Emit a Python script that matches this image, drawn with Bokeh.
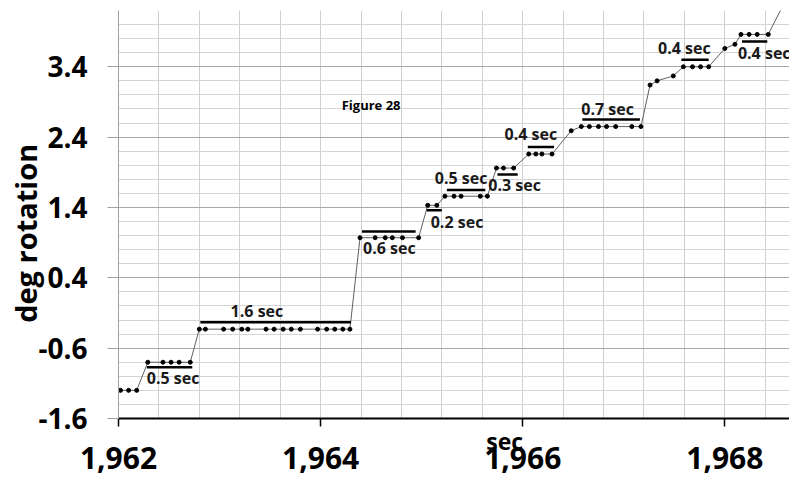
import numpy as np
from bokeh.plotting import figure
from bokeh.models import FixedTicker, NumeralTickFormatter, PrintfTickFormatter, Label, Range1d, ColumnDataSource
from bokeh.core.properties import value
from bokeh.embed import file_html
from bokeh.resources import INLINE

# ---- data ----
t = [1962.02, 1962.10, 1962.18,
     1962.29, 1962.44, 1962.52, 1962.60, 1962.71,
     1962.80, 1962.86, 1963.04, 1963.13, 1963.22, 1963.28, 1963.46, 1963.54,
     1963.63, 1963.71, 1963.80, 1963.97, 1964.06, 1964.14, 1964.22, 1964.29,
     1964.39, 1964.54, 1964.64, 1964.71, 1964.81, 1964.97,
     1965.06, 1965.15,
     1965.23, 1965.32, 1965.39, 1965.58, 1965.65,
     1965.74, 1965.81, 1965.91,
     1966.06, 1966.13, 1966.19, 1966.29,
     1966.48,
     1966.58, 1966.66, 1966.75, 1966.83, 1966.92, 1967.08, 1967.17,
     1967.26, 1967.33, 1967.49,
     1967.59, 1967.68, 1967.76, 1967.84,
     1968.00, 1968.10,
     1968.16, 1968.24, 1968.32, 1968.43,
     1968.62]
deg = [-1.20, -1.20, -1.20,
       -0.80, -0.80, -0.80, -0.80, -0.80,
       -0.33, -0.33, -0.33, -0.33, -0.33, -0.33, -0.33, -0.33,
       -0.33, -0.33, -0.33, -0.33, -0.33, -0.33, -0.33, -0.33,
       0.97, 0.97, 0.97, 0.97, 0.97, 0.97,
       1.43, 1.43,
       1.56, 1.56, 1.56, 1.56, 1.56,
       1.96, 1.96, 1.96,
       2.16, 2.16, 2.16, 2.16,
       2.49,
       2.55, 2.55, 2.55, 2.55, 2.55, 2.55, 2.55,
       3.14, 3.20, 3.27,
       3.40, 3.40, 3.40, 3.40,
       3.66, 3.72,
       3.86, 3.86, 3.86, 3.86,
       4.40]

bar_x0 = [1962.28, 1962.81, 1964.41, 1965.05, 1965.25, 1965.75, 1966.05, 1966.59, 1967.57, 1968.17]
bar_x1 = [1962.73, 1964.30, 1964.94, 1965.20, 1965.63, 1965.95, 1966.31, 1967.16, 1967.84, 1968.42]
bar_y = [-0.87, -0.23, 1.06, 1.36, 1.65, 1.87, 2.26, 2.65, 3.50, 3.76]

ann_text = ["0.5 sec", "1.6 sec", "0.6 sec", "0.2 sec", "0.5 sec", "0.3 sec",
            "0.4 sec", "0.7 sec", "0.4 sec", "0.4 sec"]
ann_x = [1962.54, 1963.37, 1964.68, 1965.35, 1965.39, 1965.92, 1966.08, 1966.84, 1967.60, 1968.39]
ann_y = [-1.02, -0.07, 0.83, 1.20, 1.82, 1.72, 2.45, 2.80, 3.66, 3.60]

x_ticks = [1962, 1964, 1966, 1968]
y_ticks = [-1.6, -0.6, 0.4, 1.4, 2.4, 3.4]

FONT = "Open Sans"
NB = "\u00a0"

p = figure(width=789, height=479, output_backend="svg", toolbar_location=None,
           x_range=Range1d(1962, 1968.64), y_range=Range1d(-1.6, 4.2),
           min_border_left=118, min_border_right=0, min_border_top=10, min_border_bottom=61)
p.outline_line_color = None
p.background_fill_color = "white"

# grids
p.xgrid.ticker = FixedTicker(ticks=list(np.round(np.arange(1962.0, 1968.65, 0.4), 2)))
p.xgrid.grid_line_color = "#cfcfcf"
p.xgrid.grid_line_width = 1
p.ygrid.ticker = FixedTicker(ticks=y_ticks,
                             minor_ticks=list(np.round(np.arange(-1.6, 4.21, 0.2), 2)))
p.ygrid.grid_line_color = "#a8a8a8"
p.ygrid.minor_grid_line_color = "#d4d4d4"

# x axis
xa = p.xaxis[0]
xa.ticker = FixedTicker(ticks=x_ticks)
xa.formatter = NumeralTickFormatter(format="0,0")
xa.axis_line_color = "black"
xa.axis_line_width = 2
xa.major_tick_line_color = "black"
xa.major_tick_line_width = 1.5
xa.major_tick_out = 8
xa.major_tick_in = 0
xa.minor_tick_line_color = None
xa.major_label_standoff = 20
xa.major_label_text_font = FONT
xa.major_label_text_font_style = "bold"
xa.major_label_text_font_size = "30px"
xa.major_label_text_color = "black"
xa.axis_label = NB * 17 + "sec"
xa.axis_label_standoff = -47
xa.axis_label_text_font = FONT
xa.axis_label_text_font_style = "bold"
xa.axis_label_text_font_size = "23px"
xa.axis_label_text_color = "black"

# y axis
ya = p.yaxis[0]
ya.ticker = FixedTicker(ticks=y_ticks)
ya.formatter = PrintfTickFormatter(format="%.1f")
ya.axis_line_color = "#a0a0a0"
ya.axis_line_width = 1
ya.major_tick_line_color = "#a0a0a0"
ya.major_tick_out = 11
ya.major_tick_in = 0
ya.minor_tick_line_color = None
ya.major_label_standoff = 20
ya.major_label_text_font = FONT
ya.major_label_text_font_style = "bold"
ya.major_label_text_font_size = "28px"
ya.major_label_text_color = "black"
ya.axis_label = "deg rotation" + NB * 5
ya.axis_label_standoff = -10
ya.axis_label_text_font = FONT
ya.axis_label_text_font_style = "bold"
ya.axis_label_text_font_size = "29px"
ya.axis_label_text_color = "black"

# data
src = ColumnDataSource(dict(t=t, deg=deg))
p.line("t", "deg", source=src, line_color="#606060", line_width=1)
p.scatter("t", "deg", source=src, size=4, fill_color="black", line_color="black")

p.segment(x0=bar_x0, y0=bar_y, x1=bar_x1, y1=bar_y, line_color="black", line_width=2.5)

p.text(x=ann_x, y=ann_y, text=ann_text, text_font=value(FONT), text_font_style="bold",
       text_font_size="16px", text_color="#1a1a1a", text_align="center", text_baseline="middle")

p.add_layout(Label(x=1964.50, y=2.85, text="Figure 28", text_font=FONT, text_font_style="bold",
                   text_font_size="13px", text_color="black", text_align="center",
                   text_baseline="middle"))

open("out.html", "w").write(file_html(p, INLINE))
